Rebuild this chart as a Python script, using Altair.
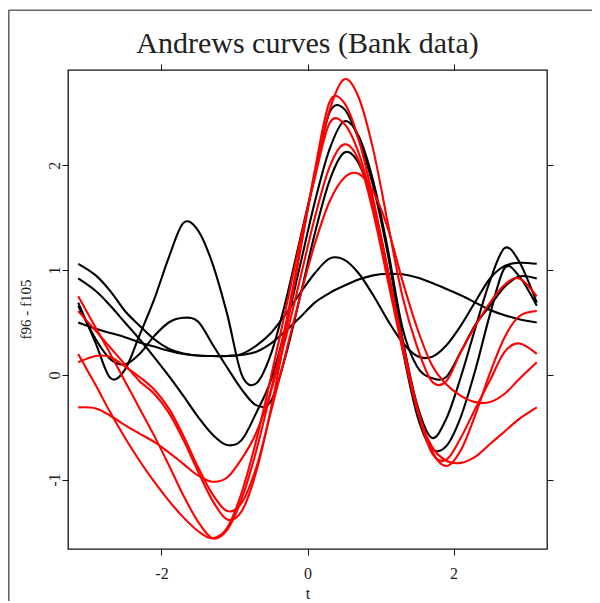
import altair as alt
import pandas as pd

T = [-3.14, -2.9, -2.7, -2.5, -2.3, -2.1, -1.9, -1.7, -1.5, -1.3, -1.1, -0.9, -0.7, -0.5, -0.3, -0.1,
     0.1, 0.3, 0.5, 0.7, 0.9, 1.1, 1.3, 1.5, 1.7, 1.9, 2.1, 2.3, 2.5, 2.7, 2.9, 3.14]

# genuine notes (black)
f96 = [1.06, 0.95, 0.80, 0.61, 0.47, 0.34, 0.25, 0.205, 0.185, 0.18, 0.18, 0.20, 0.28, 0.40, 0.58, 0.78,
       0.97, 1.11, 1.10, 0.97, 0.76, 0.52, 0.31, 0.18, 0.17, 0.28, 0.47, 0.70, 0.92, 1.04, 1.07, 1.06]
f97 = [0.92, 0.80, 0.66, 0.50, 0.34, 0.17, -0.01, -0.20, -0.40, -0.57, -0.67, -0.62, -0.36, -0.05, 0.45, 1.05,
       1.65, 2.15, 2.42, 2.28, 1.85, 1.20, 0.45, 0.08, -0.03, -0.02, 0.22, 0.48, 0.66, 0.84, 0.94, 0.92]
f98 = [0.69, 0.30, -0.03, 0.05, 0.38, 0.72, 1.12, 1.45, 1.38, 1.06, 0.58, 0.00, -0.08, 0.20, 0.70, 1.30,
       1.90, 2.50, 2.54, 2.25, 1.80, 1.15, 0.35, -0.28, -0.60, -0.42, -0.02, 0.45, 0.90, 1.21, 1.08, 0.69]
f99 = [0.66, 0.34, 0.15, 0.10, 0.20, 0.37, 0.50, 0.545, 0.51, 0.29, 0.07, -0.14, -0.29, -0.25, 0.18, 0.75,
       1.35, 1.85, 2.12, 2.02, 1.62, 1.00, 0.25, -0.38, -0.70, -0.68, -0.40, 0.05, 0.58, 1.02, 0.94, 0.66]
f100 = [0.50, 0.44, 0.40, 0.36, 0.31, 0.27, 0.23, 0.20, 0.185, 0.18, 0.18, 0.19, 0.22, 0.30, 0.42, 0.55,
        0.69, 0.78, 0.85, 0.91, 0.95, 0.965, 0.96, 0.93, 0.88, 0.82, 0.76, 0.69, 0.62, 0.57, 0.53, 0.50]

# forged notes (red)
f101 = [0.75, 0.45, 0.20, -0.06, -0.32, -0.58, -0.86, -1.15, -1.40, -1.56, -1.48, -1.18, -0.72, -0.15, 0.48, 1.20,
        1.92, 2.52, 2.82, 2.65, 2.15, 1.45, 0.75, 0.27, -0.06, -0.06, 0.22, 0.47, 0.69, 0.86, 0.92, 0.75]
f102 = [0.61, 0.42, 0.26, 0.10, -0.06, -0.18, -0.36, -0.62, -0.92, -1.20, -1.38, -1.30, -0.92, -0.32, 0.40, 1.18,
        1.95, 2.60, 2.60, 2.25, 1.68, 1.00, 0.32, -0.30, -0.72, -0.87, -0.72, -0.38, 0.02, 0.36, 0.56, 0.61]
f103 = [0.20, -0.10, -0.36, -0.60, -0.82, -1.02, -1.20, -1.36, -1.49, -1.56, -1.46, -1.12, -0.62, -0.02, 0.62, 1.28,
        1.88, 2.40, 2.40, 2.12, 1.62, 0.98, 0.30, -0.32, -0.74, -0.81, -0.60, -0.32, -0.05, 0.22, 0.30, 0.20]
f104 = [0.12, 0.18, 0.17, 0.08, -0.02, -0.14, -0.32, -0.58, -0.88, -1.14, -1.30, -1.22, -0.88, -0.35, 0.20, 0.75,
        1.25, 1.65, 1.88, 1.92, 1.75, 1.40, 0.90, 0.45, 0.10, -0.09, -0.20, -0.26, -0.26, -0.18, -0.04, 0.12]
f105 = [-0.31, -0.32, -0.39, -0.48, -0.56, -0.64, -0.74, -0.85, -0.96, -1.02, -0.98, -0.80, -0.55, -0.15, 0.35, 0.92,
        1.50, 1.98, 2.20, 2.05, 1.55, 0.90, 0.25, -0.33, -0.68, -0.82, -0.84, -0.78, -0.66, -0.54, -0.42, -0.31]

curves = {"f96": f96, "f97": f97, "f98": f98, "f99": f99, "f100": f100,
          "f101": f101, "f102": f102, "f103": f103, "f104": f104, "f105": f105}
groups = {"f96": "genuine", "f97": "genuine", "f98": "genuine", "f99": "genuine", "f100": "genuine",
          "f101": "forged", "f102": "forged", "f103": "forged", "f104": "forged", "f105": "forged"}

rows = []
for name, vals in curves.items():
    for i, (t, v) in enumerate(zip(T, vals)):
        rows.append({"t": t, "value": v, "curve": name, "group": groups[name], "order": i})
df = pd.DataFrame(rows)

SERIF = "Liberation Serif"
xscale = alt.Scale(domain=[-3.28, 3.28], nice=False, zero=False)
yscale = alt.Scale(domain=[-1.662, 2.910], nice=False, zero=False)

lines = alt.Chart(df).mark_line(strokeWidth=2.1, interpolate="cardinal").encode(
    x=alt.X("t:Q", scale=xscale, axis=alt.Axis(
        orient="bottom", values=[-2, 0, 2], grid=False, domain=False, tickSize=6, tickColor="#111",
        tickWidth=1, labelFont=SERIF, labelFontSize=16, labelColor="#222", labelPadding=10,
        labelExpr="'' + datum.value", title="t", titleFont=SERIF, titleFontSize=16,
        titleFontWeight="normal", titleColor="#222", titleX=239.5, titleY=49,
        titleBaseline="alphabetic")),
    y=alt.Y("value:Q", scale=yscale, axis=alt.Axis(
        orient="left", values=[-1, 0, 1, 2], grid=False, domain=False, tickSize=6, tickColor="#111",
        tickWidth=1, labelFont=SERIF, labelFontSize=16, labelColor="#222", labelAngle=-90,
        labelAlign="center", labelBaseline="bottom", labelPadding=0, labelExpr="'' + datum.value",
        title="f96 - f105", titleFont=SERIF, titleFontSize=15, titleFontWeight="normal",
        titleColor="#222", titleAngle=-90, titleX=-42.5, titleY=239, titleAlign="center",
        titleBaseline="middle")),
    color=alt.Color("group:N", scale=alt.Scale(domain=["genuine", "forged"], range=["#000000", "#ff0000"]),
                    legend=None),
    detail="curve:N",
    order="order:Q",
)

ghost = alt.Chart(df).mark_point(opacity=0).encode(
    x=alt.X("t:Q", scale=xscale, axis=alt.Axis(
        orient="top", values=[-2, 0, 2], grid=False, domain=False, tickSize=6, tickColor="#111",
        tickWidth=1, labels=False, title=None)),
    y=alt.Y("value:Q", scale=yscale, axis=alt.Axis(
        orient="right", values=[-1, 0, 1, 2], grid=False, domain=False, tickSize=6, tickColor="#111",
        tickWidth=1, labels=False, title=None)),
)

title_df = pd.DataFrame({"label": ["Andrews curves (Bank data)"]})
title = alt.Chart(title_df).mark_text(
    font=SERIF, fontSize=30, color="#222", align="center", baseline="alphabetic"
).encode(x=alt.value(239.5), y=alt.value(-17.4), text="label:N")

border_left = alt.Chart(title_df).mark_rule(color="#666", strokeWidth=1.6).encode(
    x=alt.value(-59.2), y=alt.value(-60), y2=alt.value(600))
border_top = alt.Chart(title_df).mark_rule(color="#666", strokeWidth=1.6).encode(
    x=alt.value(-59.2), x2=alt.value(600), y=alt.value(-59.7))

chart = alt.layer(lines, ghost, title, border_left, border_top).resolve_axis(
    x="independent", y="independent"
).properties(
    width=479, height=479,
    background="white",
    autosize=alt.AutoSizeParams(type="none"),
    padding={"left": 60, "top": 62, "right": 45, "bottom": 52},
).configure_view(stroke="#111", strokeWidth=1.3)

chart.save("out.html", embed_options={"renderer": "svg", "actions": False})
